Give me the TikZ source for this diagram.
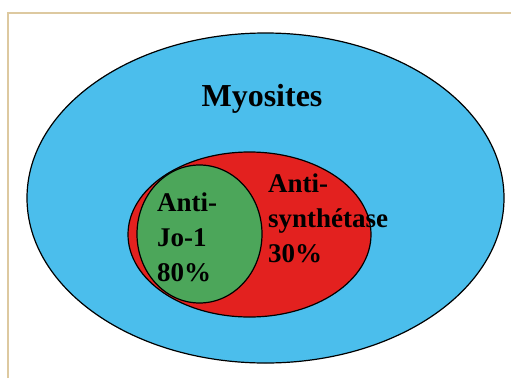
\documentclass[tikz,border=0pt]{standalone}
\usepackage{fontspec}
\setmainfont{Liberation Serif}
\usepackage{tikz}
\usetikzlibrary{shapes.geometric}
\definecolor{myoFill}{RGB}{75,190,236}
\definecolor{synthFill}{RGB}{227,33,31}
\definecolor{joFill}{RGB}{76,166,90}
\definecolor{frameStroke}{RGB}{221,201,160}
\colorlet{ink}{black}
\tikzset{
  setshape/.style={
    ellipse,
    draw=ink,
    line width=1.2pt,
    inner sep=0pt
  },
  myoset/.style={setshape, fill=myoFill},
  synthset/.style={setshape, fill=synthFill},
  joset/.style={setshape, fill=joFill},
  setlabel/.style={
    font=\bfseries\fontsize{27}{35}\selectfont,
    text=ink,
    align=left,
    inner sep=0pt
  },
  titlelabel/.style={
    font=\bfseries\fontsize{32}{38}\selectfont,
    text=ink,
    inner sep=0pt
  },
  panelframe/.style={draw=frameStroke, line width=2pt}
}

\begin{document}
\begin{tikzpicture}[x=1pt,y=-1pt]
  \useasboundingbox (0,0) rectangle (511,378);
  \fill[white] (0,0) rectangle (511,378);
  \draw[panelframe] (7.5,378) -- (7.5,12.5) -- (511,12.5);

  \node[myoset, minimum width=477pt, minimum height=330pt] (myosites) at (265.5,198) {};
  \node[synthset, minimum width=243pt, minimum height=165pt] (synth) at (249.5,234.5) {};
  \node[joset, minimum width=125pt, minimum height=138pt] (jo) at (199.5,234) {};

  \node[titlelabel, anchor=base] (myotitle) at (262,106) {Myosites};
  \node[setlabel, anchor=north west] (jolabel) at (157,193) {Anti-\\Jo-1\\80\%};
  \node[setlabel, anchor=north west] (synthlabel) at (268,174) {Anti-\\synthétase\\30\%};
\end{tikzpicture}
\end{document}
